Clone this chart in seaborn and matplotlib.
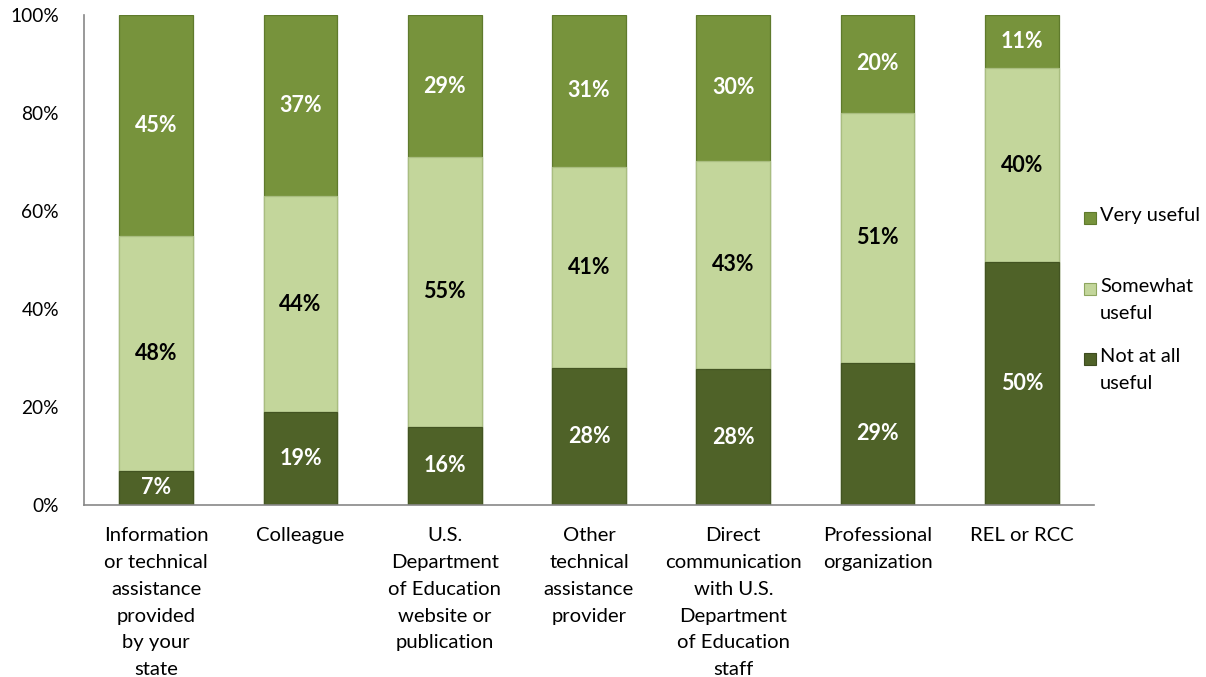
import numpy as np
import pandas as pd
import matplotlib
matplotlib.use("Agg")
import matplotlib.pyplot as plt
from matplotlib.patches import Rectangle
import seaborn as sns

categories = [
    "Information\nor technical\nassistance\nprovided\nby your\nstate",
    "Colleague",
    "U.S.\nDepartment\nof Education\nwebsite or\npublication",
    "Other\ntechnical\nassistance\nprovider",
    "Direct\ncommunication\nwith U.S.\nDepartment\nof Education\nstaff",
    "Professional\norganization",
    "REL or RCC",
]
not_useful = [7, 19, 16, 28, 28, 29, 50]
somewhat_useful = [48, 44, 55, 41, 43, 51, 40]
very_useful = [45, 37, 29, 31, 30, 20, 11]

series_names = ["Very useful", "Somewhat useful", "Not at all useful"]
legend_labels = ["Very useful", "Somewhat\nuseful", "Not at all\nuseful"]
y_ticks = [0, 20, 40, 60, 80, 100]

C_VERY = "#77933C"
C_SOME = "#C3D69B"
C_NOT = "#4F6228"
AXIS_GRAY = "#878787"

sns.set_theme(style="white")
plt.rcParams["font.family"] = ["Lato", "DejaVu Sans"]

# percent-stacked shares (each column scaled to 100%)
raw = np.array([not_useful, somewhat_useful, very_useful], dtype=float)
shares = raw / raw.sum(axis=0) * 100
cum_not = shares[0]
cum_some = shares[0] + shares[1]
cum_top = cum_some + shares[2]

df = pd.DataFrame({
    "category": categories,
    "top": cum_top,
    "mid": cum_some,
    "low": cum_not,
})

fig = plt.figure(figsize=(12.06, 6.77), dpi=100)
ax = fig.add_axes([84 / 1206, 1 - 505 / 677, (1094 - 84) / 1206, (505 - 15) / 677])

bw = 0.51
sns.barplot(data=df, x="category", y="top", color=C_VERY, width=bw, saturation=1,
            edgecolor="#5f7a2c", linewidth=0.9, ax=ax)
sns.barplot(data=df, x="category", y="mid", color=C_SOME, width=bw, saturation=1,
            edgecolor="#a9bd80", linewidth=0.9, ax=ax)
sns.barplot(data=df, x="category", y="low", color=C_NOT, width=bw, saturation=1,
            edgecolor="#435422", linewidth=0.9, ax=ax)

# segment value labels
LABEL_FS = 15.5
for i in range(len(categories)):
    ax.text(i, cum_not[i] / 2, f"{not_useful[i]}%", ha="center", va="center",
            color="white", fontsize=LABEL_FS, fontweight="bold")
    ax.text(i, (cum_not[i] + cum_some[i]) / 2, f"{somewhat_useful[i]}%", ha="center",
            va="center", color="black", fontsize=LABEL_FS, fontweight="bold")
    ax.text(i, (cum_some[i] + cum_top[i]) / 2, f"{very_useful[i]}%", ha="center",
            va="center", color="white", fontsize=LABEL_FS, fontweight="bold")

ax.set_xlim(-0.5, len(categories) - 0.5)
ax.set_ylim(0, 100)
ax.set_yticks(y_ticks)
ax.set_yticklabels([f"{t}%" for t in y_ticks], fontsize=13.8, color="black")
ax.set_xlabel("")
ax.set_ylabel("")

# category labels centered under bars, tick marks at category boundaries
ax.set_xticks(range(len(categories)))
ax.set_xticklabels(categories, fontsize=14.6, color="black", linespacing=1.7, va="top")
ax.tick_params(axis="x", which="major", length=0, pad=16)
ax.set_xticks(np.arange(-0.5, len(categories), 1.0), minor=True)
ax.tick_params(axis="x", which="minor", length=7, width=1, color=AXIS_GRAY, direction="out")
ax.tick_params(axis="y", length=7, width=1, color=AXIS_GRAY, direction="out", pad=11)

for side in ["top", "right"]:
    ax.spines[side].set_visible(False)
for side in ["left", "bottom"]:
    ax.spines[side].set_color(AXIS_GRAY)
    ax.spines[side].set_linewidth(1.2)

# legend: square swatch aligned with the first line of each label
legend_colors = [C_VERY, C_SOME, C_NOT]
legend_edges = ["#5f7a2c", "#8ea65f", "#3d4c1f"]
legend_tops = [207, 278, 348]
for col, ec, lab, top in zip(legend_colors, legend_edges, legend_labels, legend_tops):
    sq = 12
    fig.add_artist(Rectangle((1084 / 1206, 1 - (top + 17) / 677), sq / 1206, sq / 677,
                             transform=fig.transFigure, facecolor=col, edgecolor=ec,
                             linewidth=0.8))
    fig.text(1100 / 1206, 1 - top / 677, lab, ha="left", va="top", fontsize=14.4,
             color="black", linespacing=1.7)

fig.savefig("out.png", dpi=100)
